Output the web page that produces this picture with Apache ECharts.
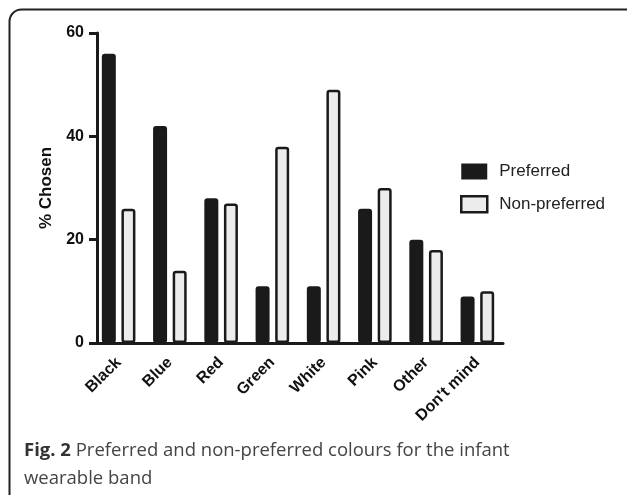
<!DOCTYPE html>
<html>
<head>
<meta charset="utf-8">
<script src="https://cdn.jsdelivr.net/npm/echarts@6/dist/echarts.min.js"></script>
<style>
  html, body { margin: 0; padding: 0; background: #fff; }
  #chart { width: 627px; height: 495px; }
</style>
</head>
<body>
<div id="chart"></div>
<script>
// data
var colours = ["Black", "Blue", "Red", "Green", "White", "Pink", "Other", "Don't mind"];
var preferred = [56, 42, 28, 11, 11, 26, 20, 9];
var nonPreferred = [26, 14, 27, 38, 49, 30, 18, 10];
var yTicks = [0, 20, 40, 60];

var ink = "#1a1a1a";
var axisFont = "Liberation Sans";

var myChart = echarts.init(document.getElementById("chart"));

var option = {
  backgroundColor: "#fff",
  animation: false,
  title: {
    left: 24,
    top: 437,
    padding: 0,
    text: "{b|Fig. 2} Preferred and non-preferred colours for the infant\nwearable band",
    textStyle: {
      fontFamily: "Open Sans",
      fontSize: 18.5,
      fontWeight: "normal",
      color: "#444",
      lineHeight: 28,
      rich: {
        b: { fontFamily: "Open Sans", fontSize: 18.5, fontWeight: "bold", color: "#333", lineHeight: 28 }
      }
    }
  },
  legend: {
    orient: "vertical",
    left: 460,
    top: 163,
    padding: 0,
    itemWidth: 26,
    itemHeight: 16,
    itemGap: 15,
    icon: "rect",
    textStyle: { fontFamily: axisFont, fontSize: 17, color: "#222", padding: [0, 0, 0, 7] },
    data: [
      { name: "Preferred", itemStyle: { color: ink, borderColor: ink, borderWidth: 0 } },
      { name: "Non-preferred", itemStyle: { color: "#ececec", borderColor: ink, borderWidth: 2.5 } }
    ]
  },
  grid: { left: 93, top: 33, width: 410, height: 310, containLabel: false },
  xAxis: {
    type: "category",
    data: colours,
    boundaryGap: true,
    axisLine: { lineStyle: { color: ink, width: 3 } },
    axisTick: { alignWithLabel: true, length: 8, lineStyle: { color: ink, width: 3 } },
    axisLabel: {
      rotate: 45,
      margin: 17,
      interval: 0,
      fontFamily: axisFont,
      fontWeight: "bold",
      fontSize: 16,
      color: "#111"
    }
  },
  yAxis: {
    type: "value",
    min: 0,
    max: 60,
    interval: 20,
    offset: -4,
    name: "% Chosen",
    nameLocation: "middle",
    nameGap: 42,
    nameTextStyle: { fontFamily: axisFont, fontWeight: "bold", fontSize: 17, color: "#111" },
    axisLine: { show: true, lineStyle: { color: ink, width: 3 } },
    axisTick: { show: true, length: 8, lineStyle: { color: ink, width: 3 } },
    splitLine: { show: false },
    axisLabel: {
      margin: 13,
      fontFamily: axisFont,
      fontWeight: "bold",
      fontSize: 16,
      color: "#111",
      formatter: function (v) { return yTicks.indexOf(v) >= 0 ? String(v) : ""; }
    }
  },
  series: [
    {
      name: "Preferred",
      type: "bar",
      data: preferred,
      barWidth: 14,
      barGap: "40%",
      itemStyle: { color: ink, borderColor: ink, borderWidth: 2, borderRadius: 2 }
    },
    {
      name: "Non-preferred",
      type: "bar",
      data: nonPreferred,
      barWidth: 14,
      barGap: "40%",
      itemStyle: { color: "#ececec", borderColor: ink, borderWidth: 2.5, borderRadius: 2 }
    }
  ],
  graphic: [
    {
      // panel frame, only top and left edges fall inside the picture
      type: "rect",
      silent: true,
      z: -1,
      shape: { x: 9.5, y: 9.5, width: 660, height: 520, r: [12, 0, 0, 0] },
      style: { fill: null, stroke: "#222", lineWidth: 2 }
    }
  ]
};

myChart.setOption(option);
</script>
</body>
</html>
